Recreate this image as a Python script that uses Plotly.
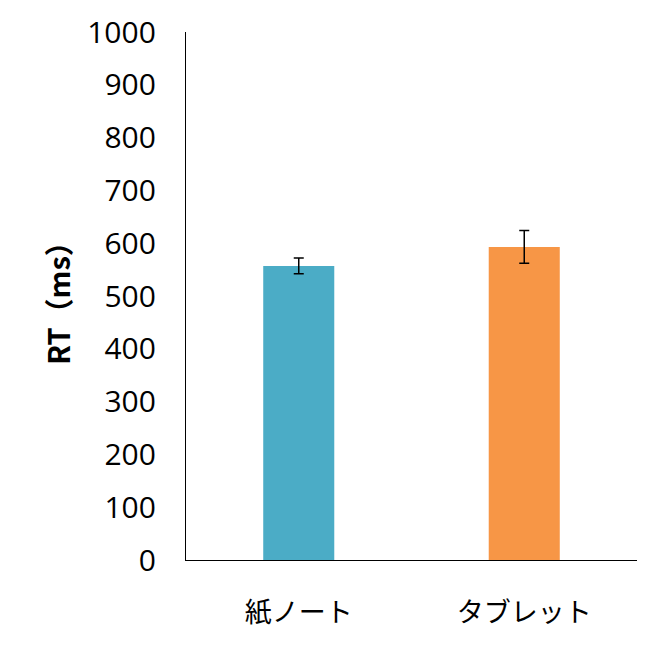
import plotly.graph_objects as go

categories = ["紙ノート", "タブレット"]
rt_values = [557, 593]
rt_errors = [15, 31]
bar_colors = ["#4BACC6", "#F79646"]
y_tick_values = [0, 100, 200, 300, 400, 500, 600, 700, 800, 900, 1000]

fig = go.Figure()
fig.add_trace(go.Bar(
    x=categories,
    y=rt_values,
    marker=dict(color=bar_colors, line=dict(width=0)),
    width=0.315,
    error_y=dict(type="data", array=rt_errors, visible=True,
                 color="black", thickness=1.5, width=5),
))

fig.update_layout(
    width=662, height=651,
    margin=dict(l=178, r=33, t=24, b=99),
    paper_bgcolor="white", plot_bgcolor="white",
    showlegend=False,
    xaxis=dict(
        showline=True, linecolor="black", linewidth=1.3,
        showgrid=False, ticks="", automargin=False,
        tickfont=dict(family="Noto Sans CJK JP", size=27, color="black"),
        ticklabelstandoff=28,
    ),
    yaxis=dict(
        range=[0, 1000], tickvals=y_tick_values,
        showline=True, linecolor="black", linewidth=1.3,
        showgrid=False, ticks="", zeroline=False, automargin=False,
        tickfont=dict(family="Open Sans", size=30, color="black"),
        ticklabelstandoff=23,
        title=dict(text="RT（ms）",
                   font=dict(family="Noto Sans CJK JP", size=29, color="black", weight="bold"),
                   standoff=8),
    ),
)

fig.write_html("out.html")
